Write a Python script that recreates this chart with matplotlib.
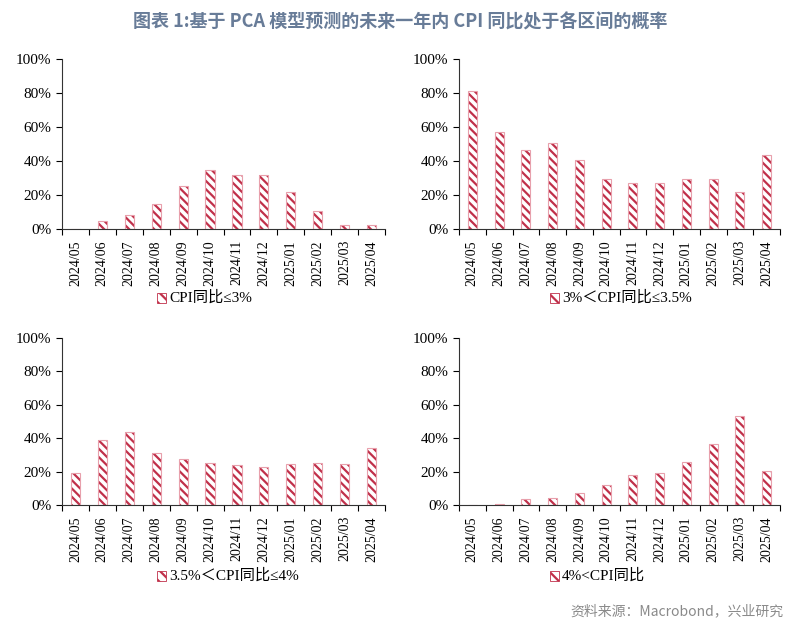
import numpy as np
import matplotlib
matplotlib.use("Agg")
import matplotlib.pyplot as plt
from matplotlib.ticker import PercentFormatter

# 月份
months = ["2024/05", "2024/06", "2024/07", "2024/08", "2024/09", "2024/10",
          "2024/11", "2024/12", "2025/01", "2025/02", "2025/03", "2025/04"]

# 各区间概率 (%)
p_le3 = [0, 4.9, 8.4, 14.5, 25.5, 34.8, 31.8, 31.8, 21.6, 10.6, 2.6, 2.6]
p_3_35 = [81.3, 57.0, 46.2, 50.5, 40.8, 29.2, 26.8, 27.2, 29.2, 29.2, 21.7, 43.6]
p_35_4 = [19.1, 38.8, 43.6, 31.3, 27.7, 25.1, 23.7, 22.5, 24.3, 24.9, 24.3, 34.3]
p_gt4 = [0, 0.8, 3.4, 4.4, 7.4, 12.0, 17.7, 18.9, 25.5, 36.5, 53.0, 20.3]

labels = ["CPI同比≤3%", "3%＜CPI同比≤3.5%", "3.5%＜CPI同比≤4%", "4%<CPI同比"]

title = "图表 1:基于 PCA 模型预测的未来一年内 CPI 同比处于各区间的概率"
source = "资料来源：Macrobond，兴业研究"

serif = ["Liberation Serif", "Noto Sans CJK SC"]
red = "#C0304A"
pink = "#E8A0AC"

plt.rcParams["font.family"] = serif
plt.rcParams["hatch.linewidth"] = 1.6

fig = plt.figure(figsize=(8, 6.32), dpi=100)
W, H = 800, 632

# 轴位置 (像素)
boxes = [(62, 59, 385, 229), (459, 59, 780, 229),
         (62, 338, 385, 505), (459, 338, 780, 505)]
legend_pos = [(205, 298), (598, 298), (205, 576), (598, 576)]
series = [p_le3, p_3_35, p_35_4, p_gt4]

x = np.arange(len(months))
for (x0, y0, x1, y1), vals, lab, (lx, ly) in zip(boxes, series, labels, legend_pos):
    ax = fig.add_axes([x0 / W, 1 - y1 / H, (x1 - x0) / W, (y1 - y0) / H])
    ax.bar(x, vals, width=0.34, color="white", edgecolor=red, hatch="\\\\\\\\",
           linewidth=0)
    ax.bar(x, vals, width=0.34, color="none", edgecolor=pink, linewidth=0.8)
    ax.set_xlim(-0.5, len(months) - 0.5)
    ax.set_ylim(0, 100)
    ax.set_yticks(np.arange(0, 101, 20))
    ax.yaxis.set_major_formatter(PercentFormatter(decimals=0))
    ax.set_xticks(x)
    ax.set_xticklabels(months, rotation=90)
    ax.set_xticks(np.arange(-0.5, len(months), 1), minor=True)
    ax.tick_params(axis="x", which="major", length=0, pad=8, labelsize=10)
    ax.tick_params(axis="x", which="minor", length=4, direction="out", width=0.8)
    ax.tick_params(axis="y", length=4, direction="out", width=0.8, labelsize=11)
    for s in ["top", "right"]:
        ax.spines[s].set_visible(False)
    for s in ["left", "bottom"]:
        ax.spines[s].set_color("#333333")
        ax.spines[s].set_linewidth(0.8)

    # 图例
    fig.patches.append(plt.Rectangle(((lx - 48) / W, 1 - (ly + 5) / H), 9 / W, 10 / H,
                                     transform=fig.transFigure, facecolor="white",
                                     edgecolor=red, hatch="\\\\\\", linewidth=0.6))
    fig.text((lx - 36) / W, 1 - ly / H, lab, ha="left", va="center",
             fontsize=11, family=serif)

fig.text(0.5, 1 - 22 / H, title, ha="center", va="center", fontsize=13,
         fontweight="bold", color="#687C98",
         family=["Noto Sans CJK SC", "DejaVu Sans"])
fig.text(783 / W, 1 - 611 / H, source, ha="right", va="center", fontsize=10,
         color="#8A8A8A", family=["Noto Sans CJK SC", "DejaVu Sans"])

fig.savefig("out.png", dpi=100)
